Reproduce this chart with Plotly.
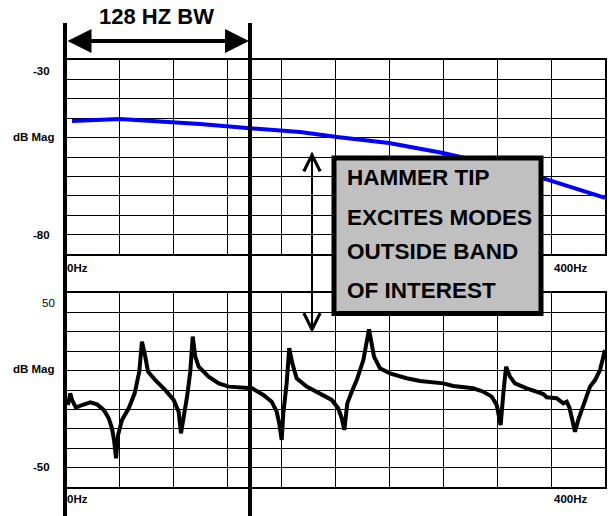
import plotly.graph_objects as go

# ---------------- data ----------------
top_freq = [5.2, 18.5, 40.7, 70.4, 100.0, 137.0, 174.1, 201.5, 240.0, 280.0, 322.2, 355.6, 377.8, 400.0]
top_db = [-45.2, -44.9, -44.6, -45.4, -46.1, -47.4, -48.6, -50.1, -51.9, -55.0, -58.9, -62.9, -65.9, -68.7]

bot_freq = [2.2, 3.9, 5.2, 8.1, 12.6, 18.7, 23.7, 28.7, 32.4, 34.8, 36.5, 37.8, 39.3, 42.2, 47.2,
            51.6, 55.0, 57.0, 59.0, 61.5, 66.9, 74.3, 80.5, 84.2, 85.9, 87.9, 90.4, 92.8, 94.6,
            96.5, 99.0, 106.4, 113.9, 121.3, 131.1, 138.5, 146.9, 153.1, 156.8, 158.7, 160.5,
            161.7, 164.2, 166.1, 168.4, 171.6, 179.0, 188.9, 197.6, 202.4, 205.0, 206.9, 209.1,
            212.4, 216.1, 221.0, 225.2, 228.9, 233.3, 240.7, 253.1, 263.0, 270.4, 280.2, 287.6,
            302.4, 309.9, 316.1, 319.8, 321.5, 322.7, 324.7, 326.7, 329.6, 333.3, 342.0, 354.3,
            356.8, 364.2, 369.1, 371.6, 373.6, 375.3, 377.8, 380.2, 383.9, 388.9, 392.6, 396.3,
            400.0]
bot_db = [-12.2, -5.1, -9.1, -13.8, -12.2, -10.6, -11.8, -15.2, -20.3, -26.4, -34.6, -44.7, -30.5, -21.3, -14.2,
          -5.1, 8.1, 26.4, 19.3, 8.1, 3.0, -3.1, -9.1, -16.3, -29.5, -20.3, -7.1, 8.1, 29.5,
          17.3, 11.2, 5.1, 1.0, -1.0, -1.6, -2.0, -6.1, -10.2, -16.3, -23.4, -33.5,
          -17.3, 1.0, 22.4, 13.2, 4.1, -1.0, -5.1, -9.1, -14.2, -20.3, -27.4, -11.2,
          -4.1, 3.0, 15.2, 34.0, 17.3, 10.2, 7.1, 4.1, 2.4, 2.0, 1.0, -0.6,
          -2.0, -4.1, -7.1, -12.2, -18.3, -24.4, -5.1, 11.2, 5.1, 1.0, -2.0, -5.5,
          -7.5, -8.1, -11.2, -10.2, -13.6, -19.3, -28.5, -21.3, -13.2, -1.0, 3.0, 9.1,
          21.3]

top_range = [-85.8, -26.6]
bot_range = [-62.2, 56.1]
freq_range = [0, 400]

top_labels = [(-30, "-30", True, 52), (-50, "dB Mag", True, 57), (-80, "-80", True, 52)]
bot_labels = [(50, "50", False, 57), (10, "dB Mag", True, 57), (-50, "-50", True, 52)]

title_text = "128 HZ BW"
box_lines = ["HAMMER TIP", "EXCITES MODES", "OUTSIDE BAND", "OF INTEREST"]

# ---------------- figure ----------------
W, H = 610, 516
FONT = "Arial, 'Liberation Sans', sans-serif"


def px(x):
    return x / W


def py(y):
    return 1 - y / H


fig = go.Figure()
fig.add_trace(go.Scatter(x=top_freq, y=top_db, mode="lines",
                         line=dict(color="#0000ff", width=4), xaxis="x", yaxis="y",
                         hoverinfo="skip"))
fig.add_trace(go.Scatter(x=bot_freq, y=bot_db, mode="lines",
                         line=dict(color="black", width=4), xaxis="x2", yaxis="y2",
                         hoverinfo="skip"))

axis_common = dict(showline=True, mirror=True, linewidth=2, linecolor="black",
                   showgrid=True, gridcolor="black", gridwidth=1,
                   showticklabels=False, ticks="", zeroline=False, fixedrange=True)

xdom = [px(65), px(605)]
fig.update_layout(
    width=W, height=H,
    margin=dict(l=0, r=0, t=0, b=0),
    paper_bgcolor="white", plot_bgcolor="white",
    showlegend=False,
    xaxis=dict(domain=xdom, range=freq_range, tick0=0, dtick=40, anchor="y", **axis_common),
    yaxis=dict(domain=[py(254), py(60)], range=top_range, tick0=top_range[0],
               dtick=(top_range[1] - top_range[0]) / 10, anchor="x", **axis_common),
    xaxis2=dict(domain=xdom, range=freq_range, tick0=0, dtick=40, anchor="y2", **axis_common),
    yaxis2=dict(domain=[py(487), py(293)], range=bot_range, tick0=bot_range[0],
                dtick=(bot_range[1] - bot_range[0]) / 10, anchor="x2", **axis_common),
)

shapes = []
# thick vertical bandwidth lines
for xv in (65, 250):
    shapes.append(dict(type="line", xref="paper", yref="paper", x0=px(xv), x1=px(xv),
                       y0=py(23), y1=py(516), line=dict(color="black", width=4)))
# grey annotation box
shapes.append(dict(type="rect", xref="paper", yref="paper", x0=px(334), x1=px(541),
                   y0=py(313.5), y1=py(158), fillcolor="#c0c0c0",
                   line=dict(color="black", width=5), layer="above"))
fig.update_layout(shapes=shapes)

ann = []
# title
ann.append(dict(text=title_text, xref="paper", yref="paper", x=px(156), y=py(16),
                xanchor="center", yanchor="middle",
                showarrow=False, font=dict(family=FONT, size=22, color="black", weight="bold")))
# horizontal double arrow
ann.append(dict(text="", xref="paper", yref="paper", x=px(249), y=py(41),
                ax=66 - 249, ay=0, axref="pixel", ayref="pixel",
                showarrow=True, arrowside="end+start", arrowhead=2, arrowsize=1.2,
                arrowwidth=4, arrowcolor="black"))
# vertical double arrow
ann.append(dict(text="", xref="paper", yref="paper", x=px(312), y=py(333),
                ax=0, ay=150 - 333, axref="pixel", ayref="pixel",
                showarrow=True, arrowside="end+start", arrowhead=5, arrowsize=1.6,
                arrowwidth=2, arrowcolor="black"))
# box text
for txt, yy in zip(box_lines, [178, 217, 251, 290]):
    ann.append(dict(text=txt, xref="paper", yref="paper", x=px(345), y=py(yy),
                    xanchor="left", yanchor="middle", showarrow=False,
                    font=dict(family=FONT, size=22.5, color="black", weight="bold")))
# y labels
for yref, labels in (("y", top_labels), ("y2", bot_labels)):
    for val, txt, bold, xr in labels:
        ann.append(dict(text=txt, xref="paper", yref=yref, x=px(xr), y=val,
                        xanchor="right", yanchor="middle", showarrow=False,
                        font=dict(family=FONT, size=11.5, color="black",
                                  weight="bold" if bold else "normal")))
# x labels
for yy in (268, 499):
    ann.append(dict(text="0Hz", xref="paper", yref="paper", x=px(65), y=py(yy),
                    xanchor="left", yanchor="middle", showarrow=False,
                    font=dict(family=FONT, size=11.5, color="black", weight="bold")))
    ann.append(dict(text="400Hz", xref="paper", yref="paper", x=px(570), y=py(yy),
                    xanchor="center", yanchor="middle", showarrow=False,
                    font=dict(family=FONT, size=11.5, color="black", weight="bold")))
fig.update_layout(annotations=ann)

fig.write_html("out.html", config={"displayModeBar": False},
               post_script="document.body.style.margin='0';document.body.style.padding='0';")
